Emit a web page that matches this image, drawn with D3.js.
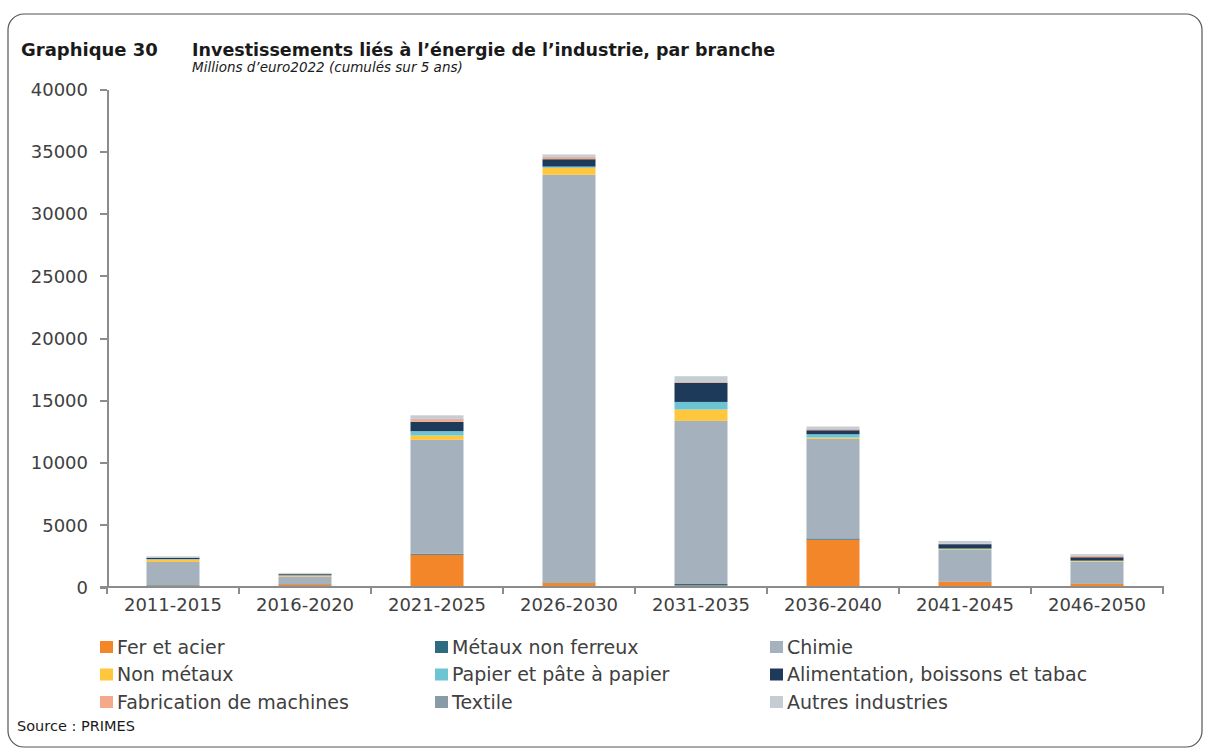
<!DOCTYPE html>
<html lang="fr">
	<head>
		<meta charset="utf-8">
		<title>Graphique 30</title>
		<script type="text/javascript" src="https://cdn.jsdelivr.net/npm/d3@7"></script>
		<style type="text/css">
			body { margin: 0; background: #fff; }
			.axis path,
			.axis line {
				stroke: #8c8c8c;
				stroke-width: 2px;
				shape-rendering: crispEdges;
			}
			.axis text {
				font-family: "DejaVu Sans", sans-serif;
				font-size: 18px;
				fill: #404040;
			}
			.legend text {
				font-family: "DejaVu Sans", sans-serif;
				font-size: 19px;
				fill: #404040;
			}
		</style>
	</head>
	<body>
		<script type="text/javascript">
			var w = 1208;
			var h = 753;

			// donnees (millions d'euro2022)
			var categories = ["2011-2015", "2016-2020", "2021-2025", "2026-2030", "2031-2035", "2036-2040", "2041-2045", "2046-2050"];
			var fer          = [110, 200, 2590, 320, 120, 3800, 400, 250];
			var metaux       = [40, 30, 80, 40, 120, 100, 30, 30];
			var chimie       = [1860, 620, 9150, 32750, 13100, 8000, 2540, 1740];
			var nonMetaux    = [190, 70, 350, 560, 910, 100, 60, 60];
			var papier       = [40, 20, 350, 100, 615, 270, 60, 40];
			var alimentation = [100, 90, 750, 590, 1525, 320, 350, 270];
			var fabrication  = [30, 20, 210, 160, 60, 80, 30, 100];
			var textile      = [20, 20, 40, 30, 50, 30, 20, 20];
			var autres       = [70, 60, 270, 190, 430, 190, 210, 130];
			var yTicks = [0, 5000, 10000, 15000, 20000, 25000, 30000, 35000, 40000];

			var seriesNames = ["Fer et acier", "Métaux non ferreux", "Chimie", "Non métaux", "Papier et pâte à papier",
				"Alimentation, boissons et tabac", "Fabrication de machines", "Textile", "Autres industries"];
			var seriesValues = [fer, metaux, chimie, nonMetaux, papier, alimentation, fabrication, textile, autres];
			var colors = ["#f4862a", "#2e6a80", "#a6b1be", "#ffc73d", "#6dc4d3", "#1d3a5a", "#f4a98b", "#8a9ba8", "#c6ccd3"];

			var table = categories.map(function(c, i) {
				var row = { cat: c };
				seriesNames.forEach(function(s, j) { row[s] = seriesValues[j][i]; });
				return row;
			});

			var svg = d3.select("body")
									.append("svg")
									.attr("width", w)
									.attr("height", h);

			// cadre arrondi
			svg.append("rect")
					.attr("x", 8)
					.attr("y", 14)
					.attr("width", 1194)
					.attr("height", 733)
					.attr("rx", 16)
					.attr("fill", "none")
					.attr("stroke", "#555")
					.attr("stroke-width", 1.2);

			svg.append("text")
					.attr("x", 21)
					.attr("y", 56)
					.attr("font-family", "DejaVu Sans, sans-serif")
					.attr("font-weight", "bold")
					.attr("font-size", "18px")
					.attr("fill", "#1a1a1a")
					.text("Graphique 30");

			svg.append("text")
					.attr("x", 192)
					.attr("y", 56)
					.attr("font-family", "DejaVu Sans, sans-serif")
					.attr("font-weight", "bold")
					.attr("font-size", "17.5px")
					.attr("fill", "#1a1a1a")
					.text("Investissements liés à l’énergie de l’industrie, par branche");

			svg.append("text")
					.attr("x", 192)
					.attr("y", 72)
					.attr("font-family", "DejaVu Sans, sans-serif")
					.attr("font-style", "italic")
					.attr("font-size", "13.5px")
					.attr("fill", "#1a1a1a")
					.text("Millions d’euro2022 (cumulés sur 5 ans)");

			var xScale = d3.scaleBand()
											.domain(categories)
											.range([107, 1163])
											.paddingInner(0)
											.paddingOuter(0);

			var yScale = d3.scaleLinear()
											.domain([0, 40000])
											.range([587, 89]);

			var stack = d3.stack().keys(seriesNames);
			var stacked = stack(table);

			var barW = 53;

			svg.selectAll("g.serie")
					.data(stacked)
					.enter()
					.append("g")
					.attr("class", "serie")
					.attr("fill", function(d, i) { return colors[i]; })
					.selectAll("rect")
					.data(function(d) { return d; })
					.enter()
					.append("rect")
					.attr("x", function(d) { return xScale(d.data.cat) + xScale.bandwidth() / 2 - barW / 2; })
					.attr("y", function(d) { return yScale(d[1]); })
					.attr("width", barW)
					.attr("height", function(d) { return yScale(d[0]) - yScale(d[1]); });

			var yAxis = d3.axisLeft(yScale)
										.tickValues(yTicks)
										.tickSizeInner(7)
										.tickSizeOuter(0)
										.tickPadding(12)
										.tickFormat(d3.format("d"));

			var yG = svg.append("g")
					.attr("class", "axis")
					.attr("transform", "translate(107,0)")
					.call(yAxis);
			yG.selectAll("text").attr("dy", "0.36em");

			var xAxis = d3.axisBottom(xScale)
										.tickSize(0)
										.tickPadding(11);

			var xG = svg.append("g")
					.attr("class", "axis")
					.attr("transform", "translate(0,587)")
					.call(xAxis);
			xG.select(".domain").remove();
			xG.append("line")
					.attr("x1", 100).attr("x2", 1164)
					.attr("y1", 0).attr("y2", 0);
			// graduations entre les categories
			var bounds = categories.map(function(c) { return xScale(c); }).concat([xScale.range()[1]]);
			xG.selectAll("line.sep")
					.data(bounds)
					.enter()
					.append("line")
					.attr("class", "sep")
					.attr("x1", function(d) { return d; })
					.attr("x2", function(d) { return d; })
					.attr("y1", 0)
					.attr("y2", 7);

			// legende sur 3 colonnes
			var legend = svg.append("g").attr("class", "legend");
			var item = legend.selectAll("g")
					.data(seriesNames)
					.enter()
					.append("g")
					.attr("transform", function(d, i) {
						return "translate(" + (100 + (i % 3) * 335) + "," + (641 + Math.floor(i / 3) * 27.5) + ")";
					});
			item.append("rect")
					.attr("width", 13)
					.attr("height", 12)
					.attr("fill", function(d, i) { return colors[i]; });
			item.append("text")
					.attr("x", 17)
					.attr("y", 12.5)
					.text(function(d) { return d; });

			svg.append("text")
					.attr("x", 17)
					.attr("y", 731)
					.attr("font-family", "DejaVu Sans, sans-serif")
					.attr("font-size", "14.5px")
					.attr("fill", "#1a1a1a")
					.text("Source : PRIMES");
		</script>
	</body>
</html>
